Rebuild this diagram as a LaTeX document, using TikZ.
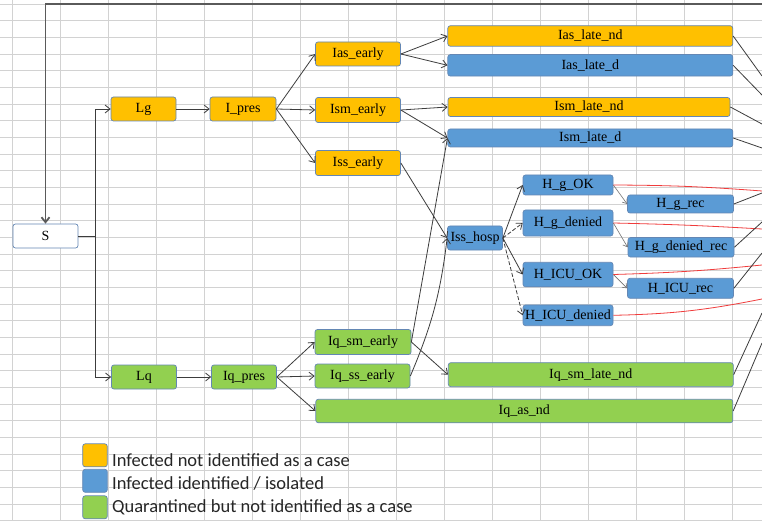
\documentclass[tikz,border=0pt]{standalone}
\usepackage{fontspec}
\setmainfont{Liberation Serif}
\newfontfamily\legendfont{Carlito}
\usetikzlibrary{arrows.meta}
\definecolor{boxorange}{RGB}{255,192,0}
\definecolor{boxblue}{RGB}{91,155,213}
\definecolor{boxgreen}{RGB}{146,208,80}
\definecolor{boxline}{RGB}{100,135,180}
\definecolor{gridgray}{RGB}{210,210,210}
\definecolor{arrowgray}{RGB}{60,60,60}
\definecolor{backgray}{RGB}{90,90,90}
\definecolor{hospgray}{RGB}{115,115,115}
\definecolor{deathred}{RGB}{240,60,60}
\tikzset{
  box/.style={draw=boxline, rounded corners=2.5pt, line width=0.7pt, inner sep=0pt,
    font=\fontsize{14}{14}\selectfont, text=black},
  wh/.style 2 args={minimum width=#1pt, minimum height=#2pt},
  whitebox/.style={box, fill=white},
  orangebox/.style={box, fill=boxorange},
  bluebox/.style={box, fill=boxblue},
  greenbox/.style={box, fill=boxgreen},
  arr/.style={draw=arrowgray, line width=0.8pt, -{Straight Barb[length=5pt,width=8pt]}},
  darr/.style={arr, dash pattern=on 4pt off 2pt},
  harr/.style={draw=hospgray, line width=0.6pt, -{Straight Barb[length=4pt,width=6pt]}},
  outline/.style={draw=arrowgray, line width=0.8pt},
  redline/.style={draw=deathred, line width=0.8pt},
  gridline/.style={draw=gridgray, line width=0.9pt},
  legtext/.style={anchor=base west, inner sep=0pt, font=\legendfont\fontsize{18.5}{18.5}\selectfont, text=black!85}
}

\begin{document}
\begin{tikzpicture}[x=1pt, y=-1pt]
  \useasboundingbox[fill=white] (0,0) rectangle (762,521);
  % spreadsheet grid
  \foreach \gx in {0,...,15}
    \draw[gridline] ({12.7+48*\gx},0) -- ({12.7+48*\gx},521);
  \foreach \gy in {0,...,31}
    \draw[gridline] (0,{4+16.67*\gy}) -- (762,{4+16.67*\gy});

  % compartments
  \node[whitebox, wh={65}{24}] (S) at (45.5,236) {S};
  \node[orangebox, wh={65}{24}] (Lg) at (143.5,109) {Lg};
  \node[orangebox, wh={66}{24}] (Ipres) at (243,109) {I\_pres};
  \node[greenbox, wh={65}{24}] (Lq) at (144,377) {Lq};
  \node[greenbox, wh={65}{24}] (Iqpres) at (244,377) {Iq\_pres};

  \node[orangebox, wh={85}{24}] (Iasearly) at (358,54) {Ias\_early};
  \node[orangebox, wh={85}{25}] (Ismearly) at (358,110) {Ism\_early};
  \node[orangebox, wh={85}{25}] (Issearly) at (358,163) {Iss\_early};
  \node[greenbox, wh={96}{25}] (Iqsmearly) at (363,342) {Iq\_sm\_early};
  \node[greenbox, wh={95}{24}] (Iqssearly) at (362.5,376) {Iq\_ss\_early};

  \node[orangebox, wh={285}{20.5}] (Iaslatend) at (590.3,36) {Ias\_late\_nd};
  \node[bluebox, wh={285}{21.5}] (Iaslated) at (590.3,65.3) {Ias\_late\_d};
  \node[orangebox, wh={282}{19}] (Ismlatend) at (589,107) {Ism\_late\_nd};
  \node[bluebox, wh={285}{18}] (Ismlated) at (590.3,138) {Ism\_late\_d};
  \node[greenbox, wh={285}{24}] (Iqsmlatend) at (590.8,374.7) {Iq\_sm\_late\_nd};
  \node[greenbox, wh={417}{23.5}] (Iqasnd) at (524.3,411) {Iq\_as\_nd};

  \node[bluebox, wh={55}{24}] (Isshosp) at (475,238) {Iss\_hosp};
  \node[bluebox, wh={90}{20}] (HgOK) at (568,185) {H\_g\_OK};
  \node[bluebox, wh={90}{26}] (Hgdenied) at (568,223) {H\_g\_denied};
  \node[bluebox, wh={90}{24.5}] (HICUOK) at (568,274.5) {H\_ICU\_OK};
  \node[bluebox, wh={90}{20.7}] (HICUdenied) at (568,315.3) {H\_ICU\_denied};
  \node[bluebox, wh={106}{18}] (Hgrec) at (680.5,204) {H\_g\_rec};
  \node[bluebox, wh={106}{19.5}] (Hgdeniedrec) at (681,247.3) {H\_g\_denied\_rec};
  \node[bluebox, wh={106}{20}] (HICUrec) at (680.5,288.3) {H\_ICU\_rec};

  % free ends past the right border
  \coordinate (backin) at (762,4);
  \coordinate (split) at (95,236);
  \coordinate (outA) at (762,76);
  \coordinate (outB) at (762,95);
  \coordinate (outC) at (762,124);
  \coordinate (outD) at (762,148);
  \coordinate (outE) at (762,193);
  \coordinate (outF) at (762,222);
  \coordinate (outG) at (762,253);
  \coordinate (outH) at (762,313);
  \coordinate (outI) at (762,343);
  \coordinate (redA) at (762,191);
  \coordinate (redB) at (762,229);
  \coordinate (redC) at (762,265);
  \coordinate (redD) at (762,299);

  % flows
  \draw[draw=backgray, line width=1.8pt, -{Straight Barb[length=5pt,width=8pt]}] (backin) -| (S.north);
  \draw[outline] (S.east) -- (split);
  \draw[arr] (split) |- (Lg.west);
  \draw[arr] (split) |- (Lq.west);
  \draw[arr] (Lg) -- (Ipres);
  \draw[arr] (Lq) -- (Iqpres);
  \draw[arr] (Ipres.east) -- (Iasearly.west);
  \draw[arr] (Ipres.east) -- (Ismearly.west);
  \draw[arr] (Ipres.east) -- (Issearly.west);
  \draw[arr] (Iqpres.east) -- (Iqsmearly.west);
  \draw[arr] (Iqpres.east) -- (Iqssearly.west);
  \draw[arr] (Iqpres.east) -- (Iqasnd.west);
  \draw[arr] (Iasearly.east) -- (Iaslatend.west);
  \draw[arr] (Iasearly.east) -- (Iaslated.west);
  \draw[arr] (Ismearly.east) -- (Ismlatend.west);
  \draw[arr] (Ismearly.east) -- (Ismlated.west);
  \draw[arr] (Issearly.east) -- (Isshosp.west);
  \draw[arr] (Iqsmearly.east) -- (Ismlated.west);
  \draw[arr] (Iqsmearly.east) -- (Iqsmlatend.west);
  \draw[arr] (Iqssearly.east) to[bend right=8] (Isshosp.west);

  \draw[arr] (Isshosp.east) -- (HgOK.west);
  \draw[darr] (Isshosp.east) -- (Hgdenied.west);
  \draw[arr] (Isshosp.east) -- (HICUOK.west);
  \draw[darr] (Isshosp.east) -- (HICUdenied.west);
  \draw[harr] (HgOK.east) -- (Hgrec.west);
  \draw[harr] (Hgdenied.east) -- (Hgdeniedrec.west);
  \draw[harr] (HICUOK.east) -- (HICUrec.west);

  \draw[redline] (HgOK.east) to[bend left=2] (redA);
  \draw[redline] (Hgdenied.east) to[bend left=1] (redB);
  \draw[redline] (HICUOK.east) to[bend right=2] (redC);
  \draw[redline] (HICUdenied.east) to[bend right=5] (redD);

  \draw[outline] (Iaslatend.east) -- (outA);
  \draw[outline] (Iaslated.east) -- (outB);
  \draw[outline] (Ismlatend.east) -- (outC);
  \draw[outline] (Ismlated.east) -- (outD);
  \draw[outline] (Hgrec.east) -- (outE);
  \draw[outline] (Hgdeniedrec.east) -- (outF);
  \draw[outline] (HICUrec.east) -- (outG);
  \draw[outline] (Iqsmlatend.east) -- (outH);
  \draw[outline] (Iqasnd.east) -- (outI);

  % legend
  \node[box, wh={24.6}{23}, fill=boxorange] (legOrange) at (95,455.3) {};
  \node[box, wh={24.6}{23}, fill=boxblue] (legBlue) at (95,480.8) {};
  \node[box, wh={24.6}{23}, fill=boxgreen] (legGreen) at (95,507.3) {};
  \node[legtext] (legOrangetxt) at (112,466.7) {Infected not identified as a case};
  \node[legtext] (legBluetxt) at (112,489.5) {Infected identified / isolated};
  \node[legtext] (legGreentxt) at (112,512.5) {Quarantined but not identified as a case};
\end{tikzpicture}
\end{document}
